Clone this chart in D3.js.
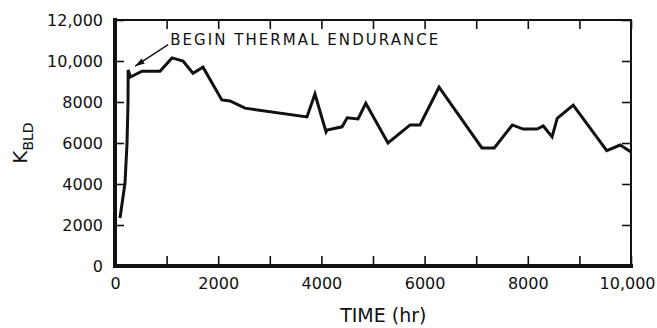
<!DOCTYPE html>
<html>
<head>
<meta charset="utf-8">
<script src="https://cdn.jsdelivr.net/npm/d3@7"></script>
<style>
  body { margin: 0; background: #fff; }
  text { font-family: 'DejaVu Sans', sans-serif; fill: #111; }
</style>
</head>
<body>
<div id="chart"></div>
<script>
// hours and K_BLD values
const hours = [97, 194, 233, 252, 255, 300, 523, 872, 1105, 1318, 1512, 1705, 2070, 2230, 2520, 3720, 3875, 4090,
  4110, 4400, 4500, 4710, 4860, 5290, 5720, 5910, 6280, 7110, 7350, 7700, 7910, 8180, 8300, 8470, 8570, 8880,
  9530, 9790, 10000]
const kbld = [2340, 4050, 6000, 7950, 9560, 9220, 9500, 9500, 10150, 10000, 9400, 9700, 8100, 8050, 7700, 7270, 8390, 6540,
  6630, 6790, 7230, 7170, 7940, 6000, 6880, 6880, 8720, 5760, 5760, 6880, 6680, 6680, 6830, 6300, 7200, 7850,
  5630, 5900, 5560]

const xTicks = [0, 2000, 4000, 6000, 8000, 10000]
const xTickLabels = ['0', '2000', '4000', '6000', '8000', '10,000']
const yTicks = [0, 2000, 4000, 6000, 8000, 10000, 12000]
const yTickLabels = ['0', '2000', '4000', '6000', '8000', '10,000', '12,000']

const annotation = 'BEGIN THERMAL ENDURANCE'

const W = 657, H = 328
const margin = { left: 115, right: 26, top: 20, bottom: 62 }
const width = W - margin.left - margin.right
const height = H - margin.top - margin.bottom

const svg = d3.select('#chart')
  .append('svg')
  .attr('width', W)
  .attr('height', H)

const g = svg.append('g')
  .attr('transform', `translate(${margin.left}, ${margin.top})`)

const x = d3.scaleLinear().domain([0, 10000]).range([0, width])
const y = d3.scaleLinear().domain([0, 12000]).range([height, 0])

const minorX = d3.range(0, 10001, 1000)

// bottom axis
const xAxis = g.append('g')
  .attr('transform', `translate(0, ${height})`)
  .call(d3.axisBottom(x).tickValues(minorX).tickSize(-10).tickPadding(12)
    .tickFormat(d => { const i = xTicks.indexOf(d); return i < 0 ? '' : xTickLabels[i] }))
xAxis.select('.domain').remove()
xAxis.selectAll('.tick line').attr('stroke', '#111').attr('stroke-width', 1.6)
xAxis.selectAll('text').attr('font-size', 16).attr('fill', '#111')
  .attr('dx', d => d === 10000 ? -4 : 0)

// top axis
const topAxis = g.append('g')
  .call(d3.axisTop(x).tickValues(minorX).tickSize(-9).tickFormat(''))
topAxis.select('.domain').remove()
topAxis.selectAll('.tick line').attr('stroke', '#111').attr('stroke-width', 1.6)

// left axis
const yAxis = g.append('g')
  .call(d3.axisLeft(y).tickValues(yTicks).tickSize(-9).tickPadding(12)
    .tickFormat((d, i) => yTickLabels[i]))
yAxis.select('.domain').remove()
yAxis.selectAll('.tick line').attr('stroke', '#111').attr('stroke-width', 1.6)
yAxis.selectAll('text').attr('font-size', 16).attr('fill', '#111')

// right axis
const rightAxis = g.append('g')
  .attr('transform', `translate(${width}, 0)`)
  .call(d3.axisRight(y).tickValues(yTicks).tickSize(-9).tickFormat(''))
rightAxis.select('.domain').remove()
rightAxis.selectAll('.tick line').attr('stroke', '#111').attr('stroke-width', 1.6)

// frame: heavy left/bottom, light top/right
g.append('path')
  .attr('d', `M${x(0)},${y(12000)}H${x(10000)}V${y(0)}`)
  .attr('fill', 'none').attr('stroke', '#111').attr('stroke-width', 2)
g.append('path')
  .attr('d', `M${x(0)},${y(12000)}V${y(0)}H${x(10000)}`)
  .attr('fill', 'none').attr('stroke', '#111').attr('stroke-width', 4)
  .attr('stroke-linecap', 'square')

// data line
const data = hours.map((h, i) => ({ h, k: kbld[i] }))
g.append('path')
  .datum(data)
  .attr('fill', 'none')
  .attr('stroke', '#111')
  .attr('stroke-width', 3)
  .attr('stroke-linejoin', 'miter')
  .attr('d', d3.line().x(d => x(d.h)).y(d => y(d.k)))

// annotation with arrow
const tip = { h: 390, k: 9750 }
const tail = { h: 1030, k: 10800 }
g.append('line')
  .attr('x1', x(tail.h)).attr('y1', y(tail.k))
  .attr('x2', x(tip.h)).attr('y2', y(tip.k))
  .attr('stroke', '#111').attr('stroke-width', 1.4)
const ang = Math.atan2(y(tip.k) - y(tail.k), x(tip.h) - x(tail.h))
const ax = x(tip.h), ay = y(tip.k)
g.append('path')
  .attr('d', `M${ax},${ay}L${ax - 10 * Math.cos(ang - 0.3)},${ay - 10 * Math.sin(ang - 0.3)}L${ax - 10 * Math.cos(ang + 0.3)},${ay - 10 * Math.sin(ang + 0.3)}Z`)
  .attr('fill', '#111')
g.append('text')
  .attr('x', x(1070)).attr('y', y(10780))
  .attr('font-size', 15)
  .attr('textLength', 268)
  .text(annotation)

// axis titles
g.append('text')
  .attr('text-anchor', 'middle')
  .attr('transform', `translate(${x(5200)}, ${height + 56})`)
  .attr('font-size', 19)
  .text('TIME (hr)')

const yLabel = g.append('text')
  .attr('text-anchor', 'middle')
  .attr('transform', `translate(${-88}, ${y(6000)}) rotate(-90)`)
  .attr('font-size', 20)
yLabel.append('tspan').text('K')
yLabel.append('tspan').attr('dy', 6).attr('font-size', 14).text('BLD')
</script>
</body>
</html>
